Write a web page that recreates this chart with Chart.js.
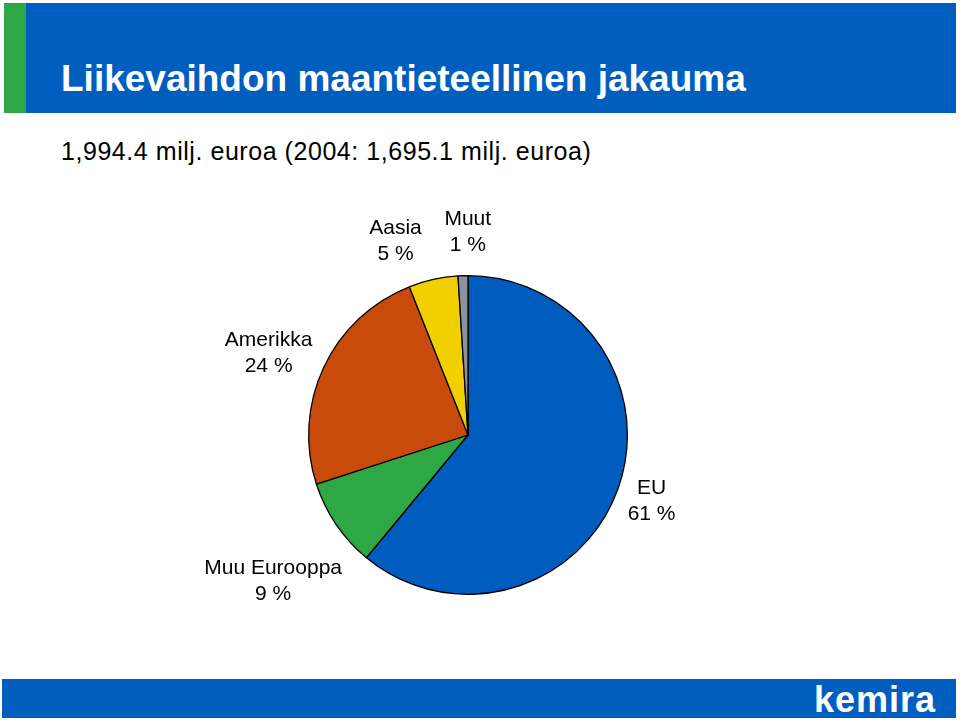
<!DOCTYPE html>
<html>
<head>
<meta charset="utf-8">
<script src="https://cdn.jsdelivr.net/npm/chart.js@4/dist/chart.umd.min.js"></script>
<style>
    body { margin: 0; background: #fff; font-family: "Liberation Sans", Arial, sans-serif; }
    #page { position: relative; width: 960px; height: 720px; overflow: hidden; }
    #header { position: absolute; left: 4px; top: 3px; width: 952px; height: 110px; background: #005EBF; }
    #stripe { position: absolute; left: 0; top: 0; width: 22px; height: 110px; background: #2EA844; }
    #title { position: absolute; left: 57px; top: 55px; color: #fff; font-weight: bold; font-size: 37px; white-space: nowrap; }
    #subtitle { position: absolute; left: 61px; top: 137px; color: #000; font-size: 25px; letter-spacing: 0.55px; white-space: nowrap; }
    #footer { position: absolute; left: 2px; top: 679px; width: 954px; height: 39px; background: #005EBF; }
    #logo { position: absolute; right: 20px; top: 0px; color: #fff; font-weight: bold; font-size: 36px; letter-spacing: 1px; }
    #chartBox { position: absolute; left: 0; top: 0; width: 960px; height: 720px; }
</style>
</head>
<body>
<div id="page">
    <div id="header"><div id="stripe"></div><div id="title">Liikevaihdon maantieteellinen jakauma</div></div>
    <div id="subtitle">1,994.4 milj. euroa (2004: 1,695.1 milj. euroa)</div>
    <div id="footer"><div id="logo">kemira</div></div>
    <div id="chartBox"><canvas id="pieChart" width="960" height="720"></canvas></div>
</div>
<script>
// regions and their share of net sales (%)
var regions = ['EU', 'Muu Eurooppa', 'Amerikka', 'Aasia', 'Muut'];
var shares = [61, 9, 24, 5, 1];
var sliceColors = ['#005CBF', '#2EA844', '#C84B0C', '#F2D000', '#8C939C'];

// where each label sits, relative to the point just outside its slice
var labelOffsets = [[-4, -1], [-30, 34], [-19, 3], [-29, 1], [6, -4]];

var labelPlugin = {
    id: 'sliceLabels',
    afterDraw: function(chart) {
        var ctx = chart.ctx;
        var arcs = chart.getDatasetMeta(0).data;
        ctx.save();
        ctx.fillStyle = '#000';
        ctx.font = '21px "Liberation Sans", Arial, sans-serif';
        ctx.textAlign = 'center';
        ctx.textBaseline = 'middle';
        arcs.forEach(function(arc, i) {
            var mid = (arc.startAngle + arc.endAngle) / 2;
            var r = arc.outerRadius + 40;
            var x = arc.x + Math.cos(mid) * r + labelOffsets[i][0];
            var y = arc.y + Math.sin(mid) * r + labelOffsets[i][1];
            ctx.fillText(regions[i], x, y - 13);
            ctx.fillText(shares[i] + ' %', x, y + 13);
        });
        ctx.restore();
    }
};

var ctx = document.getElementById('pieChart').getContext('2d');
var myChart = new Chart(ctx, {
    type: 'pie',
    data: {
        labels: regions,
        datasets: [{
            data: shares,
            backgroundColor: sliceColors,
            borderColor: '#000',
            borderWidth: 1.3
        }]
    },
    options: {
        responsive: false,
        animation: false,
        layout: {
            padding: { left: 308, right: 332, top: 275, bottom: 125 }
        },
        plugins: {
            legend: { display: false },
            tooltip: { enabled: false }
        }
    },
    plugins: [labelPlugin]
});
</script>
</body>
</html>
